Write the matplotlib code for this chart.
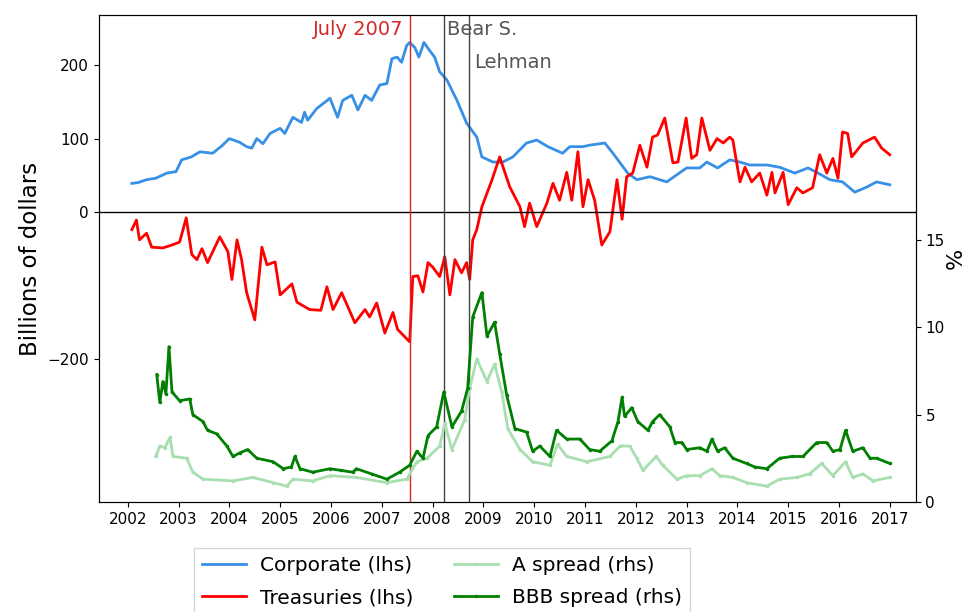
import matplotlib
matplotlib.use("Agg")
import matplotlib.pyplot as plt

# Corporate bond holdings (lhs, billions of dollars)
corp_years = [2002.08, 2002.2, 2002.37, 2002.55, 2002.77, 2002.95, 2003.06, 2003.25, 2003.42, 2003.67,
              2003.85, 2004.0, 2004.2, 2004.34, 2004.44, 2004.54, 2004.66, 2004.8, 2005.0, 2005.09,
              2005.25, 2005.42, 2005.48, 2005.54, 2005.72, 2005.98, 2006.13, 2006.23, 2006.41, 2006.53,
              2006.67, 2006.8, 2006.96, 2007.1, 2007.2, 2007.3, 2007.39, 2007.49, 2007.55, 2007.65,
              2007.73, 2007.83, 2007.91, 2008.04, 2008.14, 2008.28, 2008.48, 2008.67, 2008.87, 2008.97,
              2009.19, 2009.38, 2009.58, 2009.85, 2010.05, 2010.27, 2010.56, 2010.7, 2010.96, 2011.09,
              2011.39, 2011.55, 2011.84, 2012.02, 2012.28, 2012.61, 2013.0, 2013.26, 2013.4, 2013.61,
              2013.85, 2014.05, 2014.24, 2014.58, 2014.83, 2015.13, 2015.39, 2015.56, 2015.82, 2016.07,
              2016.31, 2016.55, 2016.74, 2017.0]
corp_values = [39, 40, 44, 46, 53, 55, 71, 75, 82, 80,
               90, 100, 95, 89, 87, 100, 93, 107, 114, 107,
               129, 122, 136, 125, 141, 155, 129, 152, 159, 139,
               159, 152, 173, 175, 209, 211, 204, 227, 231, 224,
               211, 231, 223, 211, 191, 180, 152, 121, 102, 75,
               68, 68, 75, 94, 98, 89, 80, 89, 89, 91,
               94, 80, 53, 44, 48, 41, 60, 60, 68, 60,
               71, 68, 64, 64, 61, 53, 60, 54, 44, 41,
               27, 34, 41, 37]

# Treasuries holdings (lhs, billions of dollars)
tsy_years = [2002.08, 2002.17, 2002.23, 2002.37, 2002.47, 2002.69, 2002.87, 2003.02, 2003.15, 2003.26,
             2003.36, 2003.46, 2003.57, 2003.81, 2003.97, 2004.05, 2004.15, 2004.24, 2004.34, 2004.5,
             2004.64, 2004.74, 2004.9, 2005.0, 2005.23, 2005.33, 2005.58, 2005.8, 2005.92, 2006.04,
             2006.21, 2006.47, 2006.67, 2006.76, 2006.9, 2007.06, 2007.22, 2007.31, 2007.55, 2007.61,
             2007.71, 2007.81, 2007.91, 2008.0, 2008.14, 2008.24, 2008.34, 2008.44, 2008.57, 2008.67,
             2008.73, 2008.79, 2008.87, 2008.97, 2009.17, 2009.32, 2009.52, 2009.72, 2009.81, 2009.91,
             2010.05, 2010.25, 2010.37, 2010.5, 2010.64, 2010.74, 2010.86, 2010.96, 2011.06, 2011.19,
             2011.33, 2011.49, 2011.63, 2011.73, 2011.82, 2011.94, 2012.08, 2012.22, 2012.33, 2012.43,
             2012.57, 2012.73, 2012.83, 2012.99, 2013.1, 2013.2, 2013.3, 2013.46, 2013.6, 2013.72,
             2013.85, 2013.91, 2014.05, 2014.15, 2014.28, 2014.44, 2014.58, 2014.68, 2014.74, 2014.9,
             2015.0, 2015.17, 2015.29, 2015.48, 2015.62, 2015.76, 2015.88, 2015.98, 2016.07, 2016.17,
             2016.25, 2016.47, 2016.7, 2016.84, 2017.0]
tsy_values = [-24, -11, -38, -29, -48, -49, -45, -41, -8, -58,
              -65, -50, -69, -34, -54, -92, -38, -65, -110, -147,
              -48, -72, -68, -113, -98, -123, -133, -134, -102, -133,
              -110, -151, -133, -143, -124, -165, -137, -160, -177, -88,
              -87, -109, -69, -75, -88, -61, -113, -65, -83, -69,
              -92, -38, -24, 7, 44, 75, 34, 7, -20, 12,
              -20, 12, 39, 16, 54, 16, 82, 7, 44, 16,
              -45, -27, 44, -10, 48, 53, 91, 61, 102, 105,
              128, 67, 68, 128, 73, 78, 128, 84, 100, 94,
              102, 98, 41, 61, 41, 53, 23, 54, 26, 54,
              10, 33, 26, 33, 78, 53, 73, 46, 109, 107,
              75, 94, 102, 87, 78]

# A-rated spread (rhs, %)
a_years = [2002.55, 2002.63, 2002.73, 2002.83, 2002.89, 2003.16, 2003.28, 2003.48, 2004.07, 2004.46,
           2004.86, 2005.13, 2005.25, 2005.64, 2005.98, 2006.5, 2007.1, 2007.49, 2007.69, 2007.89,
           2008.14, 2008.24, 2008.38, 2008.63, 2008.73, 2008.87, 2009.07, 2009.22, 2009.36, 2009.48,
           2009.72, 2009.97, 2010.31, 2010.46, 2010.64, 2011.04, 2011.49, 2011.69, 2011.88, 2012.02,
           2012.14, 2012.4, 2012.53, 2012.81, 2013.0, 2013.26, 2013.5, 2013.65, 2013.91, 2014.18,
           2014.58, 2014.83, 2015.17, 2015.42, 2015.66, 2015.88, 2016.13, 2016.27, 2016.47, 2016.67,
           2017.0]
a_values = [2.6, 3.2, 3.1, 3.7, 2.6, 2.5, 1.7, 1.3, 1.2, 1.4,
            1.1, 0.9, 1.3, 1.2, 1.5, 1.4, 1.1, 1.3, 2.3, 2.5,
            3.2, 4.5, 3.0, 4.7, 6.5, 8.2, 6.9, 7.9, 6.3, 4.2,
            3.0, 2.3, 2.1, 3.3, 2.6, 2.3, 2.6, 3.2, 3.2, 2.5,
            1.8, 2.6, 2.1, 1.3, 1.5, 1.5, 1.9, 1.5, 1.4, 1.1,
            0.9, 1.3, 1.4, 1.6, 2.2, 1.5, 2.3, 1.4, 1.6, 1.2,
            1.4]

# BBB-rated spread (rhs, %)
bbb_years = [2002.57, 2002.63, 2002.69, 2002.75, 2002.81, 2002.87, 2003.02, 2003.22, 2003.28, 2003.48,
             2003.57, 2003.75, 2003.95, 2004.07, 2004.2, 2004.36, 2004.54, 2004.86, 2005.06, 2005.22,
             2005.29, 2005.39, 2005.64, 2005.98, 2006.2, 2006.43, 2006.5, 2006.8, 2007.1, 2007.35,
             2007.55, 2007.69, 2007.81, 2007.91, 2008.08, 2008.22, 2008.38, 2008.57, 2008.69, 2008.79,
             2008.97, 2009.07, 2009.22, 2009.32, 2009.46, 2009.62, 2009.85, 2009.97, 2010.11, 2010.31,
             2010.44, 2010.64, 2010.9, 2011.09, 2011.29, 2011.53, 2011.65, 2011.73, 2011.78, 2011.92,
             2012.04, 2012.24, 2012.33, 2012.47, 2012.67, 2012.77, 2012.91, 2013.0, 2013.26, 2013.4,
             2013.5, 2013.61, 2013.75, 2013.91, 2014.18, 2014.34, 2014.58, 2014.83, 2015.07, 2015.29,
             2015.56, 2015.76, 2015.88, 2016.02, 2016.13, 2016.27, 2016.47, 2016.61, 2016.74, 2017.0]
bbb_values = [7.3, 5.7, 6.9, 6.2, 8.9, 6.3, 5.8, 5.9, 5.0, 4.6,
              4.1, 3.9, 3.2, 2.6, 2.8, 3.0, 2.5, 2.3, 1.9, 2.0,
              2.6, 1.9, 1.7, 1.9, 1.8, 1.7, 1.9, 1.6, 1.3, 1.7,
              2.1, 2.9, 2.5, 3.8, 4.3, 6.3, 4.3, 5.2, 6.5, 10.6,
              12.0, 9.5, 10.3, 8.5, 6.1, 4.2, 4.0, 2.9, 3.2, 2.6,
              4.1, 3.6, 3.6, 3.0, 2.9, 3.5, 4.6, 6.0, 4.9, 5.4,
              4.6, 4.1, 4.6, 5.0, 4.3, 3.4, 3.4, 3.0, 3.1, 2.9,
              3.6, 2.9, 3.1, 2.5, 2.2, 2.0, 1.9, 2.5, 2.6, 2.6,
              3.4, 3.4, 2.9, 3.0, 4.1, 2.9, 3.1, 2.5, 2.5, 2.2]

# event dates (decimal years)
july_2007 = 2007.55
bear_stearns = 2008.22
lehman = 2008.71

years = list(range(2002, 2018))

fig = plt.figure(figsize=(9.69, 6.12), dpi=100)
ax = fig.add_axes([0.102, 0.180, 0.843, 0.795])

ax.plot(corp_years, corp_values, color='#3790e6', lw=2, label='Corporate (lhs)')
ax.plot(tsy_years, tsy_values, color='red', lw=2, label='Treasuries (lhs)')
ax.axhline(0, color='black', lw=1)
ax.axvline(july_2007, color='#d62728', lw=1)
ax.axvline(bear_stearns, color='#444444', lw=1)
ax.axvline(lehman, color='#444444', lw=1)

ax.text(july_2007 - 0.12, 248, 'July 2007', color='#d62728', ha='right', va='center', fontsize=14)
ax.text(bear_stearns + 0.07, 248, 'Bear S.', color='#555555', ha='left', va='center', fontsize=14)
ax.text(lehman + 0.1, 203, 'Lehman', color='#555555', ha='left', va='center', fontsize=14)

ax.set_xlim(2001.43, 2017.51)
ax.set_ylim(-395, 268)
ax.set_yticks([-200, 0, 100, 200])
ax.set_xticks(years)
ax.set_xticklabels([str(y) for y in years])
ax.tick_params(labelsize=11)
ax.set_ylabel('Billions of dollars', fontsize=16.5)

ax2 = ax.twinx()
ax2.plot(a_years, a_values, color='#a8dfb0', lw=2, marker='.', markersize=3, label='A spread (rhs)')
ax2.plot(bbb_years, bbb_values, color='green', lw=2, marker='.', markersize=3, label='BBB spread (rhs)')
ax2.set_ylim(0, 27.9)
ax2.set_yticks([0, 5, 10, 15])
ax2.tick_params(labelsize=11)
ax2.set_ylabel('%', fontsize=16, labelpad=1)

handles = ax.get_legend_handles_labels()[0] + ax2.get_legend_handles_labels()[0]
labels = ax.get_legend_handles_labels()[1] + ax2.get_legend_handles_labels()[1]
fig.legend(handles, labels, loc='upper center', bbox_to_anchor=(0.456, 0.121), ncol=2,
           fontsize=14.5, frameon=True, fancybox=False, columnspacing=2.0,
           handlelength=2.2, handletextpad=0.7, labelspacing=0.65)

plt.savefig('out.png', dpi=100)
